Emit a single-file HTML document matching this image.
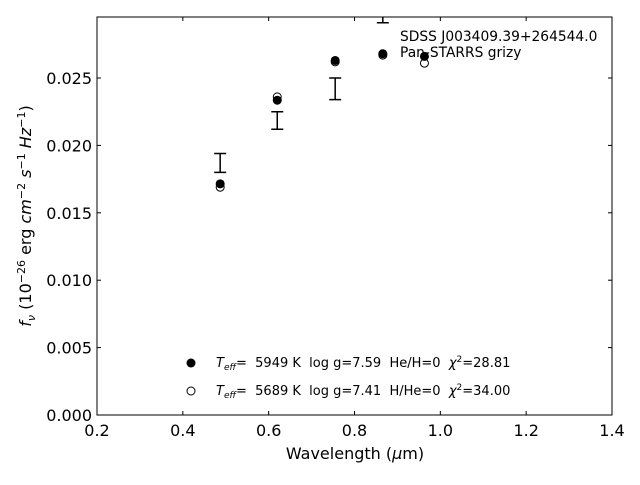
<!DOCTYPE html>
<html><head><meta charset="utf-8"><style>
body{margin:0;background:#fff;}
svg{font-family:"DejaVu Sans","Liberation Sans",sans-serif;}
text{white-space:pre;}
</style></head><body>
<svg id="c" width="640" height="480" viewBox="0 0 640 480"></svg>
<script>
const xTicks=[0.2,0.4,0.6,0.8,1.0,1.2,1.4];
const xTickLabels=["0.2","0.4","0.6","0.8","1.0","1.2","1.4"];
const yTicks=[0,0.005,0.010,0.015,0.020,0.025];
const yTickLabels=["0.000","0.005","0.010","0.015","0.020","0.025"];
const errX=[0.487,0.62,0.755,0.866];
const errLo=[0.0180,0.0212,0.0234,0.0291];
const errHi=[0.0194,0.0225,0.0250,0.0297];
const filledX=[0.487,0.62,0.755,0.866,0.963];
const filledY=[0.01715,0.02335,0.0263,0.0268,0.0266];
const openX=[0.487,0.62,0.755,0.866,0.963];
const openY=[0.0169,0.0236,0.0262,0.0267,0.0261];
const L=97,R=612,T=17,B=415;
const sx=v=>L+(v-0.2)/(1.2)*(R-L);
const sy=v=>B-v*13480;
const svg=document.getElementById('c');
const NS='http://www.w3.org/2000/svg';
function mk(tag,at,txt){const e=document.createElementNS(NS,tag);for(const k in at)e.setAttribute(k,at[k]);if(txt!==undefined)e.textContent=txt;svg.appendChild(e);return e;}
const clip=mk('clipPath',{id:'pc'});const cr=document.createElementNS(NS,'rect');cr.setAttribute('x',L);cr.setAttribute('y',T);cr.setAttribute('width',R-L);cr.setAttribute('height',B-T);clip.appendChild(cr);
const g=document.createElementNS(NS,'g');g.setAttribute('clip-path','url(#pc)');svg.appendChild(g);


function mg(tag,at){const e=document.createElementNS(NS,tag);for(const k in at)e.setAttribute(k,at[k]);g.appendChild(e);return e;}
errX.forEach((x,i)=>{const px=sx(x),y1=sy(errLo[i]),y2=sy(errHi[i]);
const e=mg('path',{d:`M${px},${y1}V${y2}M${px-6},${y1}H${px+6}M${px-6},${y2}H${px+6}`,stroke:'#000','stroke-width':1.5,fill:'none'});

});
filledX.forEach((x,i)=>{const e=mg('circle',{cx:sx(x),cy:sy(filledY[i]),r:4.5,fill:'#000'});

});
openX.forEach((x,i)=>{const e=mg('circle',{cx:sx(x),cy:sy(openY[i]),r:4,fill:'none',stroke:'#000','stroke-width':1});

});
const fr=mk('rect',{x:L,y:T,width:R-L,height:B-T,fill:'none',stroke:'#000','stroke-width':1});


xTicks.forEach((v,i)=>{const px=sx(v);
mk('line',{x1:px,x2:px,y1:B,y2:B-4,stroke:'#000'});mk('line',{x1:px,x2:px,y1:T,y2:T+4,stroke:'#000'});
const t=mk('text',{x:px,y:B+21,'text-anchor':'middle','font-size':16},xTickLabels[i]);

});
yTicks.forEach((v,i)=>{const py=sy(v);
mk('line',{x1:L,x2:L+4,y1:py,y2:py,stroke:'#000'});mk('line',{x1:R,x2:R-4,y1:py,y2:py,stroke:'#000'});
const t=mk('text',{x:L-5,y:py+6,'text-anchor':'end','font-size':16},yTickLabels[i]);

});
</script>
<svg width="640" height="480" style="position:absolute;left:0;top:0" font-family="DejaVu Sans, Liberation Sans, sans-serif">
<text x="355" y="459" text-anchor="middle" font-size="16">Wavelength (<tspan font-style="italic">μ</tspan>m)</text>
<text transform="translate(31,216) rotate(-90)" text-anchor="middle" font-size="16"><tspan font-style="italic">f<tspan font-size="11" dy="4">ν</tspan></tspan><tspan dy="-4"> (10</tspan><tspan font-size="11" dy="-6">−26</tspan><tspan dy="6"> erg </tspan><tspan font-style="italic">cm</tspan><tspan font-size="11" dy="-6">−2</tspan><tspan dy="6" font-style="italic"> s</tspan><tspan font-size="11" dy="-6">−1</tspan><tspan dy="6" font-style="italic"> Hz</tspan><tspan font-size="11" dy="-6">−1</tspan><tspan dy="6">)</tspan></text>
<g font-size="13.8">
<text x="400" y="41">SDSS J003409.39+264544.0</text>
<text x="400" y="57">Pan-STARRS grizy</text>
</g>
<g font-size="13">
<circle cx="191" cy="363" r="4.5" fill="#000"/>
<text x="216" y="367"><tspan font-style="italic">T<tspan font-size="9" dy="3">eff</tspan></tspan><tspan dy="-3">=  5949 K  log g=7.59  He/H=0  </tspan><tspan font-style="italic">χ</tspan><tspan font-size="9" dy="-5">2</tspan><tspan dy="5">=28.81</tspan></text>
<circle cx="191" cy="391" r="4" fill="none" stroke="#000"/>
<text x="216" y="395"><tspan font-style="italic">T<tspan font-size="9" dy="3">eff</tspan></tspan><tspan dy="-3">=  5689 K  log g=7.41  H/He=0  </tspan><tspan font-style="italic">χ</tspan><tspan font-size="9" dy="-5">2</tspan><tspan dy="5">=34.00</tspan></text>
</g>
</svg>
</body></html>
